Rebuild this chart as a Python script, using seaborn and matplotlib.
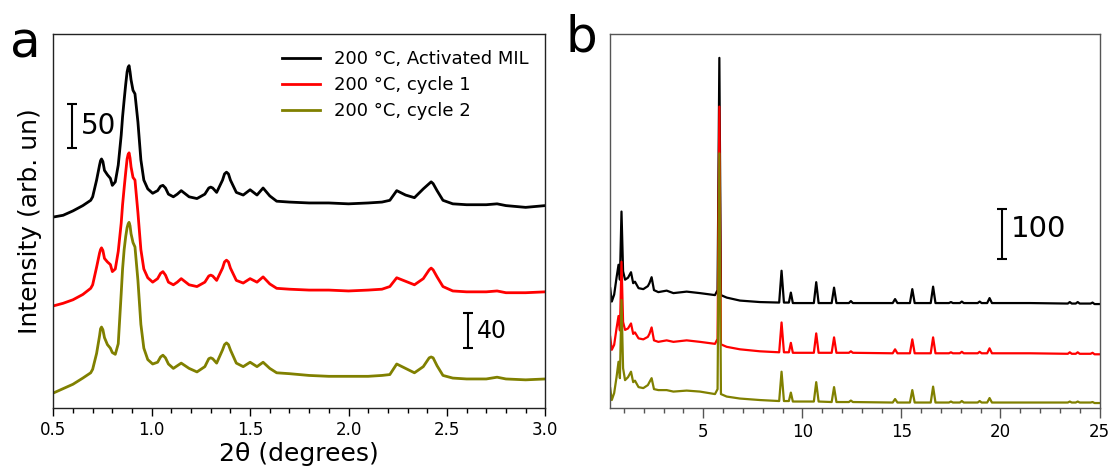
import matplotlib
matplotlib.use("Agg")
import matplotlib.pyplot as plt
import seaborn as sns
import pandas as pd
from matplotlib.ticker import MultipleLocator

# ---------------- data ----------------
series_names = ["200 °C, Activated MIL", "200 °C, cycle 1", "200 °C, cycle 2"]
series_colors = ["black", "red", "olive"]

# panel a: low-angle region (2theta, degrees) and stacked intensities
theta_a = [0.50, 0.55, 0.60, 0.65, 0.69, 0.70, 0.72, 0.735, 0.74, 0.745,
           0.752, 0.76, 0.775, 0.79, 0.80, 0.815, 0.83, 0.845, 0.852, 0.86,
           0.868, 0.875, 0.88, 0.885, 0.89, 0.895, 0.905, 0.915, 0.93, 0.945,
           0.96, 0.98, 1.005, 1.03, 1.045, 1.057, 1.07, 1.085, 1.11, 1.13,
           1.15, 1.19, 1.23, 1.27, 1.29, 1.30, 1.31, 1.33, 1.36, 1.37,
           1.38, 1.39, 1.40, 1.43, 1.465, 1.50, 1.535, 1.566, 1.60, 1.635,
           1.70, 1.80, 1.90, 2.00, 2.10, 2.17, 2.21, 2.245, 2.29, 2.335,
           2.38, 2.41, 2.42, 2.43, 2.45, 2.48, 2.53, 2.60, 2.70, 2.755,
           2.80, 2.90, 3.00]
activated_a = [217, 219, 224, 230, 236, 240, 259, 276, 281, 283,
               280, 270, 265, 261, 253, 257, 276, 310, 331, 350,
               368, 382, 387, 389, 382, 373, 361, 357, 325, 282,
               259, 249, 244, 247, 252, 253, 250, 243, 240, 243,
               247, 240, 238, 243, 250, 251, 250, 245, 259, 266,
               268, 266, 259, 245, 242, 248, 242, 250, 241, 235,
               234, 233, 233, 232, 233, 234, 236, 247, 242, 239,
               249, 255, 257, 255, 247, 236, 232, 231, 231, 232,
               230, 228, 230]
cycle1_a = [116, 119, 123, 129, 136, 140, 160, 176, 180, 182,
            179, 170, 166, 163, 155, 158, 178, 210, 231, 250,
            268, 283, 288, 290, 284, 274, 262, 259, 222, 180,
            158, 148, 143, 147, 153, 155, 151, 143, 140, 143,
            147, 140, 138, 143, 150, 151, 150, 145, 159, 166,
            168, 166, 159, 145, 142, 147, 143, 149, 141, 136,
            135, 134, 134, 133, 134, 135, 138, 148, 144, 140,
            147, 157, 159, 157, 149, 138, 133, 132, 132, 133,
            131, 131, 132]
cycle2_a = [17, 22, 27, 34, 40, 44, 62, 82, 90, 92,
            89, 80, 72, 68, 63, 61, 73, 130, 158, 180,
            195, 205, 209, 211, 207, 198, 188, 183, 145, 95,
            68, 55, 50, 52, 58, 60, 57, 50, 45, 48,
            51, 45, 41, 47, 56, 57, 56, 51, 66, 72,
            74, 72, 66, 51, 47, 52, 47, 52, 45, 40,
            39, 37, 36, 36, 36, 37, 38, 50, 45, 40,
            47, 57, 58, 57, 48, 37, 34, 33, 33, 35,
            33, 32, 33]

# panel b: full pattern
theta_b = [0.30, 0.38, 0.50, 0.62, 0.72, 0.79, 0.87, 0.95, 1.05, 1.20,
           1.35, 1.46, 1.55, 1.73, 1.97, 2.20, 2.28, 2.39, 2.51, 2.73,
           3.15, 3.49, 4.16, 4.83, 5.59, 5.72, 5.81, 5.89, 6.18, 6.85,
           7.86, 8.83, 8.95, 9.07, 9.32, 9.42, 9.52, 10.0, 10.58, 10.70,
           10.82, 11.48, 11.60, 11.72, 12.35, 12.45, 12.55, 14.56, 14.68, 14.80,
           15.43, 15.55, 15.67, 16.48, 16.60, 16.72, 17.40, 17.50, 17.60, 17.95,
           18.05, 18.15, 18.85, 18.95, 19.05, 19.33, 19.45, 19.57, 21.50, 23.40,
           23.50, 23.60, 23.80, 23.90, 24.00, 24.55, 24.65, 24.75, 25.00]
activated_b = [241, 214, 228, 262, 288, 258, 395, 275, 258, 262,
               273, 251, 254, 241, 239, 245, 251, 263, 237, 233,
               236, 231, 234, 231, 227, 237, 704, 227, 222, 216,
               213, 212, 276, 212, 212, 232, 211, 211, 211, 253,
               211, 211, 242, 211, 211, 215, 211, 211, 219, 211,
               211, 239, 211, 211, 244, 211, 211, 213, 211, 211,
               214, 211, 211, 214, 211, 211, 221, 211, 211, 210,
               213, 210, 210, 213, 210, 210, 212, 209, 209]
cycle1_b = [143, 117, 127, 160, 185, 156, 294, 173, 157, 160,
            170, 149, 152, 140, 138, 143, 149, 162, 136, 133,
            136, 133, 136, 133, 129, 139, 606, 128, 123, 118,
            114, 112, 172, 112, 112, 131, 111, 111, 111, 150,
            111, 111, 142, 111, 111, 114, 111, 110, 118, 110,
            110, 138, 110, 110, 142, 110, 110, 112, 110, 110,
            113, 110, 110, 113, 110, 110, 120, 110, 110, 109,
            112, 109, 109, 112, 109, 109, 111, 108, 108]
cycle2_b = [40, 16, 30, 62, 93, 60, 217, 80, 56, 62,
            73, 52, 55, 42, 40, 46, 52, 60, 38, 36,
            36, 33, 35, 33, 28, 38, 512, 28, 23, 19,
            16, 14, 73, 14, 14, 31, 13, 13, 13, 52,
            13, 12, 42, 12, 12, 15, 12, 11, 18, 11,
            11, 36, 11, 11, 43, 11, 11, 13, 11, 11,
            14, 11, 11, 14, 11, 11, 20, 11, 11, 11,
            13, 11, 11, 13, 11, 11, 12, 10, 10]

# intensity scale bars: (x, lower end, length)
bar_a_top = (0.595, 296, 50)
bar_a_low = (2.606, 68, 40)
bar_b = (20.10, 300, 100)

# ---------------- tables ----------------
def long_table(theta, curves):
    frames = []
    for name, vals in zip(series_names, curves):
        frames.append(pd.DataFrame({"theta": theta, "intensity": vals, "sample": name}))
    return pd.concat(frames, ignore_index=True)

df_a = long_table(theta_a, [activated_a, cycle1_a, cycle2_a])
df_b = long_table(theta_b, [activated_b, cycle1_b, cycle2_b])
palette = dict(zip(series_names, series_colors))

plt.rcParams["font.family"] = ["DejaVu Sans"]

W, H = 1116, 471
fig = plt.figure(figsize=(W / 100, H / 100), dpi=100)
ax_a = fig.add_axes([53.3 / W, 1 - 408 / H, (545.3 - 53.3) / W, (408 - 34) / H])
ax_b = fig.add_axes([610.2 / W, 1 - 408 / H, (1099.5 - 610.2) / W, (408 - 34) / H])

# ---------------- panel a ----------------
sns.lineplot(data=df_a, x="theta", y="intensity", hue="sample", hue_order=series_names,
             palette=palette, estimator=None, sort=False, lw=2.0, ax=ax_a)
ax_a.set_xlim(0.5, 3.0)
ax_a.set_ylim(0, 425)
ax_a.set_yticks([])
ax_a.xaxis.set_major_locator(MultipleLocator(0.5))
ax_a.xaxis.set_minor_locator(MultipleLocator(0.1))
ax_a.tick_params(axis="x", which="major", length=6, width=1, labelsize=12, direction="out")
ax_a.tick_params(axis="x", which="minor", length=3.5, width=1, direction="out")
ax_a.set_xlabel("2θ (degrees)", fontsize=18, labelpad=2)
ax_a.set_ylabel("Intensity (arb. un)", fontsize=18, labelpad=8)
for s in ax_a.spines.values():
    s.set_color("#222222")
    s.set_linewidth(1.0)
sns.move_legend(ax_a, "upper right", frameon=False, fontsize=13, title=None,
                handlelength=2.1, labelspacing=0.45)

for (bx, y0, length), fs in [(bar_a_top, 20), (bar_a_low, 17)]:
    ax_a.errorbar([bx], [y0 + length / 2], yerr=[length / 2], color="black",
                  capsize=3.3, elinewidth=1.5, capthick=1.5, fmt="none")
    ax_a.text(bx + 0.045, y0 + length / 2, f"{length}", fontsize=fs,
              va="center", ha="left")

# ---------------- panel b ----------------
sns.lineplot(data=df_b, x="theta", y="intensity", hue="sample", hue_order=series_names,
             palette=palette, estimator=None, sort=False, lw=1.6, ax=ax_b, legend=False)
ax_b.set_xlim(0.3, 25)
ax_b.set_ylim(0, 752)
ax_b.set_yticks([])
ax_b.xaxis.set_major_locator(MultipleLocator(5))
ax_b.xaxis.set_minor_locator(MultipleLocator(1))
ax_b.tick_params(axis="x", which="major", length=7, width=1, labelsize=12,
                 direction="out", color="#555555")
ax_b.tick_params(axis="x", which="minor", length=3.5, width=1, direction="out",
                 color="#555555")
ax_b.set_xlabel("")
ax_b.set_ylabel("")
for s in ax_b.spines.values():
    s.set_color("#555555")
    s.set_linewidth(1.0)

bx, y0, length = bar_b
ax_b.errorbar([bx], [y0 + length / 2], yerr=[length / 2], color="black",
              capsize=3.6, elinewidth=1.5, capthick=1.5, fmt="none")
ax_b.text(bx + 0.42, y0 + length / 2 + 10, f"{length}", fontsize=21,
          va="center", ha="left")

# panel letters
fig.text(10 / W, 1 - 57 / H, "a", fontsize=36, va="baseline", ha="left")
fig.text(566 / W, 1 - 52 / H, "b", fontsize=36, va="baseline", ha="left")

fig.savefig("out.png", dpi=100)
